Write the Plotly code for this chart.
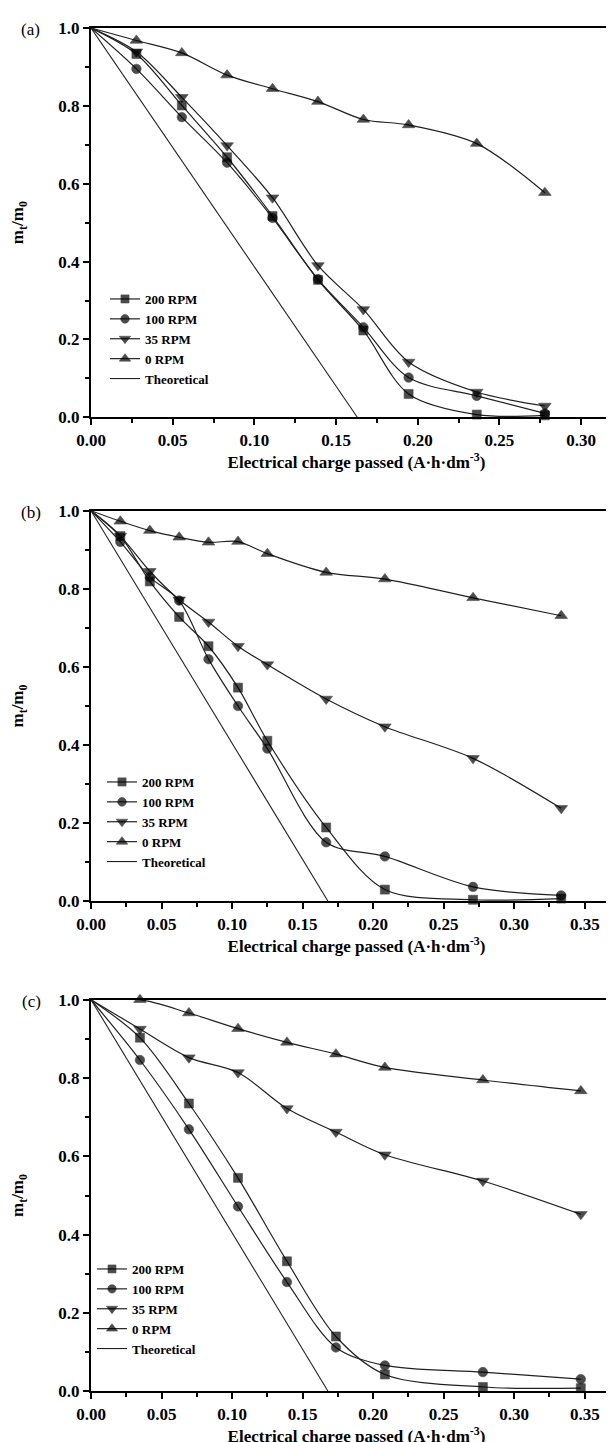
import plotly.graph_objects as go

# ---------------- data ----------------
series_names = ["200 RPM", "100 RPM", "35 RPM", "0 RPM"]
theo_name = "Theoretical"

# Panel (a)
xa = [0, 0.0278, 0.0556, 0.0833, 0.1111, 0.1389, 0.1667, 0.1944, 0.2361, 0.2778]
a_200 = [1.0, 0.933, 0.801, 0.668, 0.517, 0.353, 0.223, 0.060, 0.007, 0.005]
a_100 = [1.0, 0.895, 0.771, 0.654, 0.512, 0.355, 0.231, 0.102, 0.055, 0.010]
a_35 = [1.0, 0.939, 0.822, 0.698, 0.564, 0.390, 0.277, 0.142, 0.065, 0.029]
a_0 = [1.0, 0.968, 0.936, 0.879, 0.844, 0.811, 0.765, 0.751, 0.703, 0.577]
a_theo_x = [0, 0.163]

# Panel (b)
xb = [0, 0.0208, 0.0417, 0.0625, 0.0833, 0.1042, 0.125, 0.1667, 0.2083, 0.2708, 0.3333]
b_200 = [1.0, 0.935, 0.819, 0.728, 0.653, 0.547, 0.411, 0.189, 0.030, 0.004, 0.007]
b_100 = [1.0, 0.920, 0.830, 0.770, 0.620, 0.500, 0.391, 0.151, 0.115, 0.037, 0.015]
b_35 = [1.0, 0.935, 0.845, 0.772, 0.715, 0.653, 0.606, 0.518, 0.447, 0.366, 0.238]
b_0 = [1.0, 0.973, 0.949, 0.932, 0.919, 0.921, 0.890, 0.842, 0.825, 0.777, 0.731]
b_theo_x = [0, 0.168]

# Panel (c)
xc = [0, 0.0347, 0.0694, 0.1042, 0.1389, 0.1736, 0.2083, 0.2778, 0.3472]
c_200 = [1.0, 0.903, 0.735, 0.545, 0.332, 0.140, 0.043, 0.011, 0.008]
c_100 = [1.0, 0.846, 0.669, 0.472, 0.279, 0.112, 0.066, 0.049, 0.031]
c_35 = [1.0, 0.925, 0.852, 0.814, 0.722, 0.662, 0.604, 0.537, 0.452]
c_0 = [1.0, 1.0, 0.966, 0.926, 0.891, 0.861, 0.827, 0.795, 0.767]
c_theo_x = [0, 0.168]

theo_y = [1.0, 0.0]

panel_labels = ["(a)", "(b)", "(c)"]
x_title = "Electrical charge passed (A·h·dm<sup>-3</sup>)"
y_title = "m<sub>t</sub>/m<sub>0</sub>"

# ---------------- styling ----------------
SERIF = "Liberation Serif"
symbols = ["square", "circle", "triangle-down", "triangle-up"]
msizes = [9, 9.5, 11, 11]
LINE_COL = "#222222"

panels = [
    (xa, [a_200, a_100, a_35, a_0], a_theo_x),
    (xb, [b_200, b_100, b_35, b_0], b_theo_x),
    (xc, [c_200, c_100, c_35, c_0], c_theo_x),
]

W, H = 614, 1442
ML = 83
PW = W - ML
# panel pixel extents (top, bottom)
extents = [(20, 409.3), (502.7, 893.3), (991.7, 1383.3)]
xmax = [0.325, 0.3764, 0.3764]
legend_px = [(97, 276), (94, 759), (84, 1246)]
label_px = [(22.7, 21.5), (22.7, 504.5), (23.5, 993.3)]

fig = go.Figure()

for i, (xv, ys, tx) in enumerate(panels):
    sfx = "" if i == 0 else str(i + 1)
    xref = "x" + sfx
    yref = "y" + sfx
    leg = "legend" + sfx
    for name, yv, sym, ms in zip(series_names, ys, symbols, msizes):
        sizes = [0] + [ms] * (len(xv) - 1)
        fig.add_trace(go.Scatter(
            x=xv, y=yv, name=name, mode="lines+markers",
            line=dict(color=LINE_COL, width=1.2, shape="spline", smoothing=0.9),
            marker=dict(symbol=sym, size=sizes, color="black",
                        line=dict(color="black", width=0.6)),
            cliponaxis=False,
            xaxis=xref, yaxis=yref, legend=leg,
        ))
    fig.add_trace(go.Scatter(
        x=tx, y=theo_y, name=theo_name, mode="lines",
        line=dict(color=LINE_COL, width=1.1),
        xaxis=xref, yaxis=yref, legend=leg,
    ))

layout = dict(
    width=W, height=H,
    margin=dict(l=ML, r=0, t=0, b=0),
    paper_bgcolor="white", plot_bgcolor="white",
    font=dict(family=SERIF, color="black"),
    showlegend=True,
)

annotations = []
for i in range(3):
    sfx = "" if i == 0 else str(i + 1)
    top, bot = extents[i]
    dom = [1 - bot / H, 1 - top / H]
    layout["xaxis" + sfx] = dict(
        domain=[0, 1], anchor="y" + sfx, range=[0, xmax[i]],
        showline=True, linewidth=2, linecolor="black", mirror=True,
        ticks="outside", ticklen=6, tickwidth=1.5, tickcolor="black",
        dtick=0.05, tick0=0, tickformat=".2f",
        minor=dict(ticks="outside", ticklen=4, tickwidth=1.5, dtick=0.025, tick0=0, tickcolor="black"),
        showgrid=False, zeroline=False, automargin=False,
        tickfont=dict(family=SERIF, size=17, weight="bold"),
        title=dict(text=x_title, font=dict(family=SERIF, size=17, weight="bold"), standoff=2),
    )
    layout["yaxis" + sfx] = dict(
        domain=dom, anchor="x" + sfx, range=[0, 1.0],
        showline=True, linewidth=2, linecolor="black",
        ticks="outside", ticklen=6, tickwidth=1.5, tickcolor="black",
        dtick=0.2, tick0=0, tickformat=".1f",
        minor=dict(ticks="outside", ticklen=4, tickwidth=1.5, dtick=0.1, tick0=0, tickcolor="black"),
        showgrid=False, zeroline=False, automargin=False,
        tickfont=dict(family=SERIF, size=17, weight="bold"),
        title=dict(text=y_title, font=dict(family=SERIF, size=17, weight="bold"), standoff=31),
    )
    lx, ly = legend_px[i]
    layout["legend" + sfx] = dict(
        x=(lx - ML) / PW, y=1 - ly / H, xanchor="left", yanchor="top",
        xref="paper", yref="paper",
        bgcolor="rgba(0,0,0,0)", borderwidth=0,
        font=dict(family=SERIF, size=13, weight="bold", color="black"),
        tracegroupgap=0, itemwidth=30,
    )
    px, py = label_px[i]
    annotations.append(dict(
        text=panel_labels[i], xref="paper", yref="paper",
        x=(px - ML) / PW, y=1 - py / H, xanchor="center", yanchor="middle",
        showarrow=False, font=dict(family=SERIF, size=17, color="black"),
    ))

layout["annotations"] = annotations
fig.update_layout(**layout)

fig.write_html("out.html")
